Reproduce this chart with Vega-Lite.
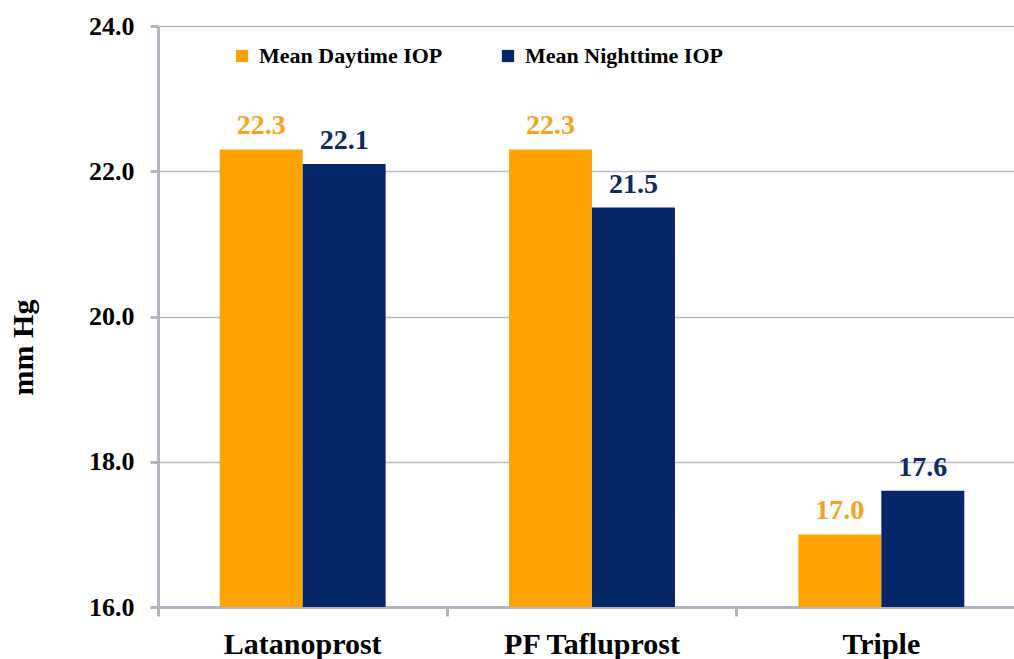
{
  "$schema": "https://vega.github.io/schema/vega-lite/v6.json",
  "autosize": {"type": "none"},
  "width": 856,
  "height": 581,
  "padding": {"left": 158, "top": 26, "right": 0, "bottom": 52},
  "background": "white",
  "config": {
    "font": "Liberation Serif",
    "view": {"stroke": null}
  },
  "data": {
    "values": [
      {"drug": "Latanoprost", "series": "Mean Daytime IOP", "iop": 22.3},
      {"drug": "Latanoprost", "series": "Mean Nighttime IOP", "iop": 22.1},
      {"drug": "PF Tafluprost", "series": "Mean Daytime IOP", "iop": 22.3},
      {"drug": "PF Tafluprost", "series": "Mean Nighttime IOP", "iop": 21.5},
      {"drug": "Triple", "series": "Mean Daytime IOP", "iop": 17.0},
      {"drug": "Triple", "series": "Mean Nighttime IOP", "iop": 17.6}
    ]
  },
  "encoding": {
    "x": {
      "field": "drug",
      "type": "nominal",
      "sort": null,
      "scale": {"range": [0, 868], "paddingInner": 0, "paddingOuter": 0},
      "axis": {
        "title": null,
        "labelAngle": 0,
        "bandPosition": 0,
        "labelFont": "Liberation Serif",
        "labelFontWeight": "bold",
        "labelFontSize": 30,
        "labelColor": "black",
        "labelPadding": 13,
        "domainColor": "#B4B4C4",
        "domainWidth": 3,
        "tickColor": "#B4B4C4",
        "tickWidth": 3,
        "tickSize": 9,
        "grid": false
      }
    },
    "xOffset": {
      "field": "series",
      "type": "nominal",
      "scale": {"paddingInner": 0, "paddingOuter": 0.744}
    },
    "y": {
      "field": "iop",
      "type": "quantitative",
      "scale": {"domain": [16, 24], "zero": false, "nice": false},
      "axis": {
        "title": "mm Hg",
        "titleFont": "Liberation Serif",
        "titleFontWeight": "bold",
        "titleFontSize": 30,
        "titleColor": "black",
        "titlePadding": 50,
        "titleY": 321,
        "values": [16, 18, 20, 22, 24],
        "format": ".1f",
        "labelFont": "Liberation Serif",
        "labelFontWeight": "bold",
        "labelFontSize": 26,
        "labelColor": "black",
        "labelPadding": 16,
        "domainColor": "#B4B4C4",
        "domainWidth": 3,
        "tickColor": "#B4B4C4",
        "tickWidth": 3,
        "tickSize": 8,
        "grid": true,
        "gridColor": "#BDBDC8",
        "gridWidth": 1.5
      }
    }
  },
  "layer": [
    {
      "mark": {"type": "bar"},
      "encoding": {
        "y2": {"datum": 16},
        "color": {
          "field": "series",
          "type": "nominal",
          "scale": {"domain": ["Mean Daytime IOP", "Mean Nighttime IOP"], "range": ["#FFA303", "#06266A"]},
          "legend": {
            "title": null,
            "orient": "none",
            "direction": "horizontal",
            "legendX": 73,
            "legendY": 19,
            "symbolType": "square",
            "symbolSize": 150,
            "symbolStrokeWidth": 0,
            "symbolOpacity": 1,
            "labelFont": "Liberation Serif",
            "labelFontWeight": "bold",
            "labelFontSize": 22,
            "labelColor": "black",
            "labelOffset": 6,
            "columnPadding": 54,
            "labelLimit": 400
          }
        }
      }
    },
    {
      "mark": {"type": "text", "baseline": "alphabetic", "dy": -15, "fontWeight": "bold", "fontSize": 28, "font": "Liberation Serif"},
      "encoding": {
        "text": {"field": "iop", "type": "quantitative", "format": ".1f"},
        "color": {
          "field": "series",
          "type": "nominal",
          "scale": {"domain": ["Mean Daytime IOP", "Mean Nighttime IOP"], "range": ["#F5A21C", "#0E2A60"]},
          "legend": null
        }
      }
    }
  ],
  "resolve": {"scale": {"color": "independent"}}
}
